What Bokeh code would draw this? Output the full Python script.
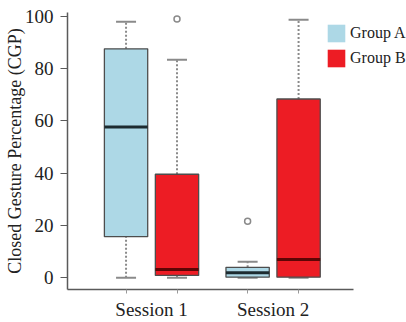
from bokeh.plotting import figure
from bokeh.models import (ColumnDataSource, Legend, LegendItem, Range1d, FixedTicker,
                          LinearAxis, CustomJSTickFormatter)
from bokeh.transform import factor_cmap
from bokeh.embed import file_html
from bokeh.resources import INLINE

# ---- data -------------------------------------------------------------
sessions = ["Session 1", "Session 2"]
groups = ["Group A", "Group B"]
whisker_low = [0.0, 0.0, 0.0, 0.0]
q1 = [15.7, 0.9, 0.2, 0.2]
median = [57.7, 3.2, 1.9, 7.0]
q3 = [87.6, 39.6, 4.0, 68.4]
whisker_high = [98.0, 83.4, 6.1, 98.7]
outlier_session = ["Session 1", "Session 2"]
outlier_group = ["Group B", "Group A"]
outlier_value = [99.0, 21.6]
y_ticks = [0, 20, 40, 60, 80, 100]

# ---- layout / styling -------------------------------------------------
FONT = "Liberation Serif"
box_colors = ["#ADD8E6", "#ED1C24"]
median_colors = ["#1d2b30", "#5e0505"]
GREY = "#8a8a8a"
AXIS = "#5a5a5a"
SESSION_STEP = 2.386      # distance between sessions in box slots
BOX_W = 0.85
X_START = -1.149
X_END = 5.504
AXIS_END = 4.459

def slot(s, g):
    return sessions.index(s) * SESSION_STEP + groups.index(g)

box_session = [s for s in sessions for g in groups]
box_group = [g for s in sessions for g in groups]
xpos = [slot(s, g) for s, g in zip(box_session, box_group)]
centers = [sessions.index(s) * SESSION_STEP + (len(groups) - 1) / 2 for s in sessions]

src = ColumnDataSource(dict(
    x=xpos, group=box_group,
    lo=whisker_low, q1=q1, med=median, q3=q3, hi=whisker_high,
))
out_src = ColumnDataSource(dict(
    x=[slot(s, g) for s, g in zip(outlier_session, outlier_group)], y=outlier_value))

p = figure(
    x_range=Range1d(X_START, X_END),
    y_range=Range1d(-4.5, 101.5),
    width=406, height=322, output_backend="svg", toolbar_location=None,
    min_border_left=67, min_border_right=0, min_border_top=12, min_border_bottom=32,
)
p.outline_line_color = None
p.grid.grid_line_color = None

# whiskers
p.segment(x0="x", y0="q3", x1="x", y1="hi", source=src,
          line_color=GREY, line_width=2, line_dash="2 2")
p.segment(x0="x", y0="lo", x1="x", y1="q1", source=src,
          line_color=GREY, line_width=2, line_dash="2 2")
# caps
p.scatter(x="x", y="hi", source=src, marker="dash", size=20,
          line_color=GREY, line_width=2)
p.scatter(x="x", y="lo", source=src, marker="dash", size=20,
          line_color=GREY, line_width=2)
# boxes: fill and outline drawn separately (legend uses the fill only)
fills = p.vbar(x="x", width=BOX_W, bottom="q1", top="q3", source=src,
               fill_color=factor_cmap("group", box_colors, groups), line_color=None)
p.vbar(x="x", width=BOX_W, bottom="q1", top="q3", source=src,
       fill_color=None, line_color="#4d4d4d", line_width=1.3)
# medians
p.rect(x="x", y="med", width=BOX_W, height=3, height_units="screen", source=src,
       fill_color=factor_cmap("group", median_colors, groups), line_color=None)
# outliers
p.scatter(x="x", y="y", source=out_src, marker="circle", size=6,
          fill_color="white", line_color=GREY, line_width=1.5)

# y axis
ya = p.yaxis[0]
ya.ticker = FixedTicker(ticks=y_ticks)
ya.minor_tick_line_color = None
ya.major_tick_out = 7
ya.major_tick_in = 0
ya.major_tick_line_color = AXIS
ya.axis_line_color = AXIS
ya.axis_line_width = 1.5
ya.major_label_text_font = FONT
ya.major_label_text_font_size = "19px"
ya.major_label_text_color = "#222222"
ya.major_label_standoff = 7
ya.axis_label = "Closed Gesture Percentage (CGP)"
ya.axis_label_text_font = FONT
ya.axis_label_text_font_size = "18px"
ya.axis_label_text_font_style = "normal"
ya.axis_label_text_color = "#222222"
ya.axis_label_standoff = -3

# x axis: tick marks at each box, no labels
xa = p.xaxis[0]
xa.ticker = FixedTicker(ticks=xpos)
xa.formatter = CustomJSTickFormatter(code="return ''")
xa.bounds = (X_START, AXIS_END)
xa.axis_line_color = AXIS
xa.axis_line_width = 1.5
xa.major_tick_out = 4
xa.major_tick_in = 0
xa.major_tick_line_color = "#999999"
xa.minor_tick_line_color = None
xa.major_label_standoff = 0

# session labels centred under each pair of boxes
xs = LinearAxis(ticker=FixedTicker(ticks=centers),
                major_label_overrides={c: s for c, s in zip(centers, sessions)},
                axis_line_color=None, major_tick_line_color=None,
                minor_tick_line_color=None, major_tick_out=0, major_tick_in=0,
                major_label_standoff=5,
                major_label_text_font=FONT, major_label_text_font_size="19px",
                major_label_text_color="#222222")
p.add_layout(xs, "below")

# legend (inside the frame, top right)
legend = Legend(items=[LegendItem(label=groups[0], renderers=[fills], index=0),
                       LegendItem(label=groups[1], renderers=[fills], index=1)],
                location=(258, 220), glyph_width=22, glyph_height=22,
                label_height=22, label_standoff=3, spacing=3, padding=0, margin=0,
                border_line_color=None, background_fill_alpha=0,
                label_text_font=FONT, label_text_font_size="16px",
                label_text_color="#222222")
p.add_layout(legend)

open("out.html", "w").write(file_html(p, INLINE))
